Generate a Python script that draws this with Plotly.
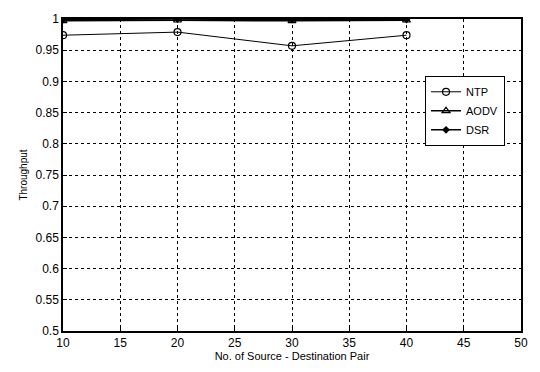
import plotly.graph_objects as go

pairs = [10, 20, 30, 40]
ntp = [0.974, 0.979, 0.957, 0.974]
aodv = [0.997, 0.998, 0.997, 0.998]
dsr = [0.999, 1.0, 0.999, 0.999]

x_ticks = [10, 15, 20, 25, 30, 35, 40, 45, 50]
y_ticks = [0.5, 0.55, 0.6, 0.65, 0.7, 0.75, 0.8, 0.85, 0.9, 0.95, 1.0]
y_labels = ["0.5", "0.55", "0.6", "0.65", "0.7", "0.75", "0.8", "0.85", "0.9", "0.95", "1"]

fig = go.Figure()
fig.add_trace(go.Scatter(x=pairs, y=ntp, name="NTP", mode="lines+markers",
                         line=dict(color="black", width=1),
                         marker=dict(symbol="circle-open", size=7, color="black", line=dict(width=1.2))))
fig.add_trace(go.Scatter(x=pairs, y=aodv, name="AODV", mode="lines+markers",
                         line=dict(color="black", width=1.5),
                         marker=dict(symbol="triangle-up-open", size=7, color="black", line=dict(width=1.2))))
fig.add_trace(go.Scatter(x=pairs, y=dsr, name="DSR", mode="lines+markers",
                         line=dict(color="black", width=1.5),
                         marker=dict(symbol="diamond", size=6, color="black")))

axis_common = dict(showline=True, linecolor="black", linewidth=1.5, mirror=True,
                   showgrid=True, gridcolor="black", griddash="3px,3px", gridwidth=1,
                   ticks="inside", ticklen=4, tickcolor="black", zeroline=False,
                   tickfont=dict(family="Liberation Sans, Arial", size=12, color="black"))

fig.update_xaxes(range=[10, 50], tickvals=x_ticks, **axis_common,
                 title=dict(text="No. of Source - Destination Pair", standoff=2,
                            font=dict(family="Liberation Sans, Arial", size=11, color="black")))
fig.update_yaxes(range=[0.5, 1.0], tickvals=y_ticks, ticktext=y_labels, **axis_common,
                 title=dict(text="Throughput", standoff=6,
                            font=dict(family="Liberation Sans, Arial", size=10, color="black")))

fig.update_layout(
    width=540, height=372,
    margin=dict(l=63, r=12, t=18, b=37),
    paper_bgcolor="white", plot_bgcolor="white",
    showlegend=True,
    legend=dict(x=0.79, y=0.817, xanchor="left", yanchor="top",
                bgcolor="white", bordercolor="black", borderwidth=1.2,
                font=dict(family="Liberation Sans, Arial", size=11, color="black"),
                tracegroupgap=0),
)

fig.write_html("out.html")
